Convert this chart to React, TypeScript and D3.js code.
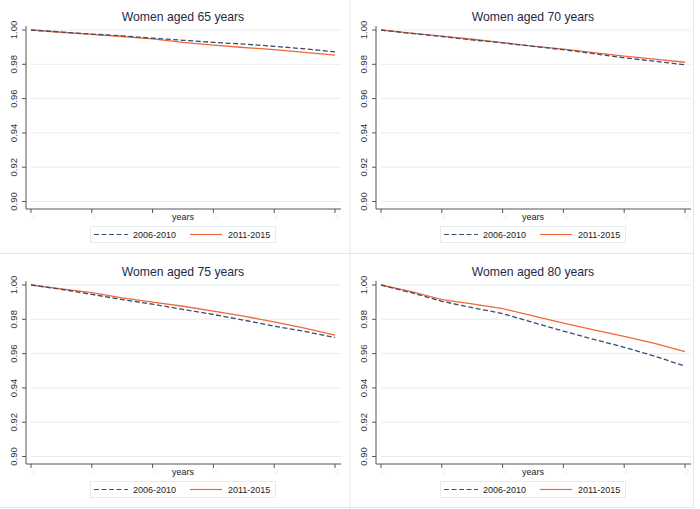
import React from 'react';
import * as d3 from 'd3';

// follow-up time (years) at which each survival value was read
const years = [0, 0.5, 1, 1.5, 2, 2.5, 3, 3.5, 4, 4.5, 5];

const women65Early = [1.0, 0.9988, 0.9976, 0.9966, 0.9952, 0.994, 0.9928, 0.9918, 0.9905, 0.989, 0.9872];
const women65Late = [1.0, 0.9987, 0.9974, 0.9962, 0.9948, 0.9928, 0.9912, 0.9898, 0.9886, 0.987, 0.9853];
const women70Early = [1.0, 0.998, 0.9962, 0.9942, 0.9925, 0.9905, 0.9885, 0.9862, 0.9838, 0.9818, 0.9797];
const women70Late = [1.0, 0.9982, 0.9964, 0.9946, 0.9926, 0.9906, 0.9888, 0.9868, 0.9848, 0.983, 0.9812];
const women75Early = [1.0, 0.9975, 0.9945, 0.9915, 0.9888, 0.9858, 0.9828, 0.9795, 0.976, 0.973, 0.9694];
const women75Late = [1.0, 0.9978, 0.9955, 0.9925, 0.99, 0.9876, 0.9848, 0.9818, 0.9785, 0.9748, 0.9708];
const women80Early = [1.0, 0.9955, 0.9905, 0.9868, 0.9833, 0.9782, 0.9731, 0.9683, 0.9637, 0.9585, 0.9527];
const women80Late = [1.0, 0.9962, 0.9915, 0.989, 0.9862, 0.982, 0.9778, 0.9738, 0.97, 0.966, 0.9612];

const titles = ['Women aged 65 years', 'Women aged 70 years', 'Women aged 75 years', 'Women aged 80 years'];
const yTicks = [0.9, 0.92, 0.94, 0.96, 0.98, 1.0];
const xTicks = [0, 1, 2, 3, 4, 5];
const seriesNames = ['2006-2010', '2011-2015'];

const panels = [
  { title: titles[0], early: women65Early, late: women65Late },
  { title: titles[1], early: women70Early, late: women70Late },
  { title: titles[2], early: women75Early, late: women75Late },
  { title: titles[3], early: women80Early, late: women80Late },
];

const NAVY = '#3b4c70';
const ORANGE = '#f0683a';
const FONT = 'Liberation Sans, Arial, sans-serif';
const DASH = '5,2.5';

const x = d3.scaleLinear().domain([0, 5]).range([31, 335]);
const y = d3.scaleLinear().domain([0.9, 1.0]).range([201.5, 30]);

const line = d3.line<[number, number]>()
  .x(d => x(d[0]))
  .y(d => y(d[1]));

const Panel = ({ title, early, late, dx, dy }: { title: string; early: number[]; late: number[]; dx: number; dy: number }) => {
  const earlyPts = years.map((t, i) => [t, early[i]] as [number, number]);
  const latePts = years.map((t, i) => [t, late[i]] as [number, number]);
  return (
    <g transform={`translate(${dx},${dy})`}>
      <text x={183} y={21} textAnchor="middle" fontSize={12.2} fill="#1e2a4a">{title}</text>

      {/* grid */}
      {yTicks.map(v => (
        <line key={v} x1={31} x2={341} y1={y(v)} y2={y(v)} stroke="#e4eef0" strokeWidth={1} />
      ))}

      {/* y axis */}
      <line x1={26} x2={26} y1={26} y2={209} stroke="#555" strokeWidth={1} />
      {yTicks.map(v => (
        <g key={v}>
          <line x1={22} x2={26} y1={y(v)} y2={y(v)} stroke="#555" />
          <text transform={`translate(17,${y(v)}) rotate(-90)`} textAnchor="middle" fontSize={9.5} fill="#333">
            {d3.format('.2f')(v)}
          </text>
        </g>
      ))}

      {/* x axis */}
      <line x1={26} x2={341} y1={209} y2={209} stroke="#555" strokeWidth={1} />
      {xTicks.map(t => (
        <g key={t}>
          <line x1={x(t)} x2={x(t)} y1={209} y2={213} stroke="#555" />
          <text x={x(t) + 2} y={219} textAnchor="middle" fontSize={7} fill="#eef2f4">{t}</text>
        </g>
      ))}
      <text x={183} y={220} textAnchor="middle" fontSize={9} fill="#222">years</text>

      {/* curves */}
      <path d={line(latePts) ?? ''} fill="none" stroke={ORANGE} strokeWidth={1.3} />
      <path d={line(earlyPts) ?? ''} fill="none" stroke={NAVY} strokeWidth={1.3} strokeDasharray={DASH} />

      {/* legend */}
      <rect x={90.5} y={226.5} width={185} height={16} fill="#fff" stroke="#e4ecee" />
      <line x1={94} x2={128} y1={234.5} y2={234.5} stroke={NAVY} strokeWidth={1.2} strokeDasharray={DASH} />
      <text x={133} y={238} fontSize={9} fill="#222">{seriesNames[0]}</text>
      <line x1={190} x2={222} y1={234.5} y2={234.5} stroke={ORANGE} strokeWidth={1.2} />
      <text x={228} y={238} fontSize={9} fill="#222">{seriesNames[1]}</text>
    </g>
  );
};

export default function App() {
  return (
    <svg width={700} height={509} style={{ position: 'absolute', left: 0, top: 0, background: '#fff' }} fontFamily={FONT}>
      <rect width={700} height={509} fill="#fff" />
      {/* panel frames */}
      <line x1={350} x2={350} y1={0} y2={509} stroke="#dde8eb" />
      <line x1={0} x2={694} y1={253.5} y2={253.5} stroke="#dde8eb" />
      <line x1={693.5} x2={693.5} y1={0} y2={507} stroke="#dde8eb" />
      <line x1={0} x2={694} y1={507.5} y2={507.5} stroke="#dde8eb" />
      {panels.map((p, i) => (
        <Panel key={p.title} title={p.title} early={p.early} late={p.late} dx={(i % 2) * 350} dy={Math.floor(i / 2) * 255} />
      ))}
    </svg>
  );
}
